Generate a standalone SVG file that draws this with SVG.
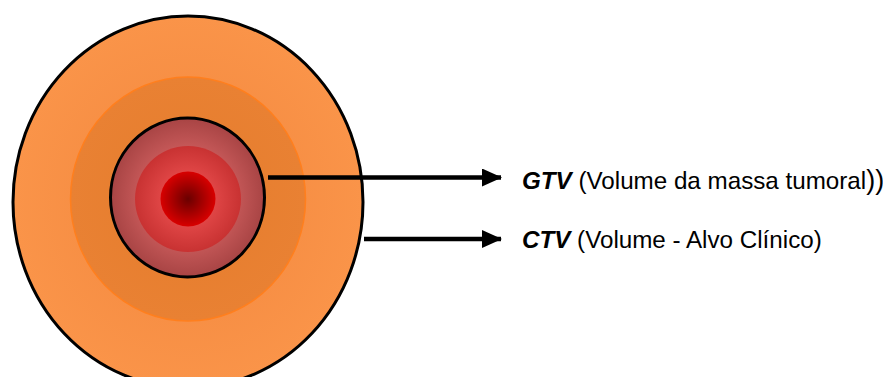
<svg xmlns="http://www.w3.org/2000/svg" width="883" height="377" viewBox="0 0 883 377">
<defs>
<radialGradient id="gOuter" cx="50%" cy="50%" r="50%">
<stop offset="0" stop-color="#F2873E"/>
<stop offset="1" stop-color="#FA9449"/>
</radialGradient>
<radialGradient id="gMid" cx="50%" cy="50%" r="50%">
<stop offset="0" stop-color="#E57C2C"/>
<stop offset="1" stop-color="#E98133"/>
</radialGradient>
<radialGradient id="gInner" cx="50%" cy="50%" r="50%">
<stop offset="0.6" stop-color="#C85A5A"/>
<stop offset="1" stop-color="#A84444"/>
</radialGradient>
<radialGradient id="gRing" cx="50%" cy="50%" r="50%">
<stop offset="0.5" stop-color="#E04646"/>
<stop offset="1" stop-color="#C83232"/>
</radialGradient>
<radialGradient id="gCore" cx="50%" cy="50%" r="50%">
<stop offset="0" stop-color="#6A0000"/>
<stop offset="1" stop-color="#D80000"/>
</radialGradient>
<marker id="arr" viewBox="0 0 20 18" refX="19" refY="9" markerWidth="20" markerHeight="18" markerUnits="userSpaceOnUse" orient="auto">
<path d="M0,0 L20,9 L0,18 Z" fill="#000"/>
</marker>
<style>
.lbl{font-family:"Liberation Sans",Arial,sans-serif;font-size:24.2px;fill:#000}
.b{font-weight:bold;font-style:italic}
.big{font-size:27px}
.conn{stroke:#000;stroke-width:4.5;fill:none}
</style>
</defs>
<g id="ptv">
<ellipse cx="188" cy="202" rx="175" ry="186" fill="url(#gOuter)" stroke="#000" stroke-width="3"/>
</g>
<g id="ctv-zone">
<ellipse cx="188" cy="199" rx="117.5" ry="122" fill="url(#gMid)" stroke="#FF7F1E" stroke-width="1.5"/>
</g>
<g id="gtv">
<ellipse cx="187.5" cy="197.5" rx="77" ry="79.5" fill="url(#gInner)" stroke="#000" stroke-width="3"/>
<circle cx="188" cy="199" r="53" fill="url(#gRing)"/>
<circle cx="188" cy="199" r="27.5" fill="url(#gCore)"/>
</g>
<g id="connectors">
<line class="conn" x1="268" y1="177.5" x2="501" y2="177.5" marker-end="url(#arr)"/>
<line class="conn" x1="364" y1="239" x2="501" y2="239" marker-end="url(#arr)"/>
</g>
<g id="label-gtv">
<text class="lbl" x="522" y="188.5"><tspan class="b">GTV</tspan> (Volume da massa tumoral<tspan class="big">))</tspan></text>
</g>
<g id="label-ctv">
<text class="lbl" x="522" y="247.5"><tspan class="b">CTV</tspan> (Volume - Alvo Clínico)</text>
</g>
</svg>
